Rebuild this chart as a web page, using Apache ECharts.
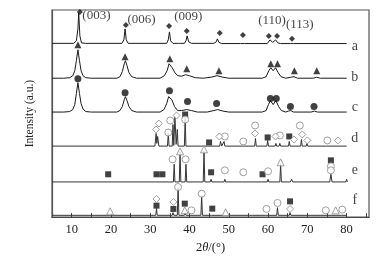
<!DOCTYPE html>
<html><head><meta charset="utf-8">
<script src="https://cdn.jsdelivr.net/npm/echarts@6/dist/echarts.min.js"></script>
<style>html,body{margin:0;padding:0;background:#fff}#c{width:386px;height:259px}</style>
</head><body><div id="c"></div>
<script>
// trace baselines (axis units)
const offsets = [174, 139, 105, 71, 35, 1.5];
const traceNames = ['a', 'b', 'c', 'd', 'e', 'f'];
const xTicks = [10, 20, 30, 40, 50, 60, 70, 80];
// [2theta, relative intensity]
const traceA = [[5,0.5],[10.5,0.5],[11.2,3],[11.6,15],[11.8,31],[12.1,8],[12.5,1],[13.5,0.5],[22.8,0.5],[23.3,4],[23.6,15],[23.9,4],[24.4,0.5],[34.2,0.5],[34.6,4],[34.9,12],[35.2,3],[35.8,0.5],[37.2,0.5],[37.5,2],[37.8,0.5],[38.7,0.5],[39.1,3],[39.4,8],[39.8,2],[40.5,0.5],[46.2,0.5],[46.8,2],[47.1,5],[47.5,1.5],[48.2,0.3],[53,0.3],[53.5,2],[54,0.3],[59.8,0.3],[60.5,4],[61.2,1.5],[61.9,4],[62.5,1],[63.2,0.3],[65.7,0.3],[66.1,2],[66.5,0.3],[80,0.3]];
const traceB = [[5,0.5],[8,0.5],[9.5,1],[10.3,3],[10.8,8],[11.2,18],[11.6,29],[12,18],[12.4,8],[12.9,3],[13.6,1],[15,0.5],[21.5,0.5],[22.3,2],[22.9,7],[23.4,15],[23.7,18],[24.1,13],[24.6,6],[25.3,2],[26.5,0.5],[32.5,0.5],[33.6,3],[34.3,8],[34.8,15],[35.1,16],[35.6,11],[36.3,6],[37,3],[38,2.5],[39,4],[40,3],[41.5,1],[43.5,0.5],[45.5,1.5],[47,3],[48.5,1.5],[50,0.5],[58.5,0.5],[59.5,2],[60.2,8],[60.7,11],[61.3,8],[61.9,11],[62.6,6],[63.3,2],[64.5,0.5],[65.8,1.5],[66.6,2],[67.5,0.5],[71.5,0.5],[72.4,1.5],[73.3,0.5],[80,0.5]];
const traceC = [[5,0.5],[8,0.5],[9.5,1],[10.3,3],[10.8,8],[11.2,19],[11.6,30],[12,19],[12.4,9],[12.9,3.5],[13.6,1],[15,0.5],[21.5,0.5],[22.3,2],[22.9,6],[23.4,13],[23.7,16],[24.1,12],[24.6,6],[25.3,2],[26.5,0.5],[32.5,0.5],[33.5,3],[34.2,9],[34.7,16],[35,18],[35.5,13],[36.2,6],[37,2],[38,2],[39.3,3],[40.5,2],[42,0.5],[44.5,0.5],[46.2,2],[47.2,3],[48.5,1.5],[50,0.5],[58.5,0.5],[59.5,2],[60.1,8],[60.6,12],[61.3,8],[62,12],[62.7,6],[63.4,2],[64.5,0.5],[65.2,1.5],[65.8,2],[66.5,0.5],[71,0.5],[71.8,1.5],[72.6,0.5],[80,0.5]];
const traceD = [[5,0.3],[31.2,0.3],[31.5,13],[31.7,3],[31.9,10],[32.2,0.3],[34.4,0.3],[34.6,13],[34.8,0.3],[35.6,0.3],[35.8,22],[36.0,1],[36.3,30],[36.6,2],[36.9,17],[37.1,0.3],[38.7,0.3],[38.9,28],[39.1,0.3],[44.8,0.3],[45,2],[45.2,0.3],[47.7,0.3],[47.9,5],[48.2,0.3],[48.6,0.3],[48.8,5],[49.0,0.3],[53.4,0.3],[53.6,1.5],[53.8,0.3],[56.6,0.3],[56.8,8],[57.0,0.3],[57.7,0.3],[57.9,2],[58.1,0.3],[59.7,0.3],[59.9,6],[60.1,0.3],[61.8,0.3],[62,3],[62.2,0.3],[62.8,0.3],[63,3],[63.2,0.3],[65.2,0.3],[65.4,5],[65.6,0.3],[66.6,0.3],[66.8,2],[67,0.3],[68.3,0.3],[68.5,7],[68.7,0.3],[69.7,0.3],[69.9,3],[70.1,0.3],[74.8,0.3],[75,1.5],[75.2,0.3],[77.6,0.3],[77.8,1],[78,0.3],[80,0.3]];
const traceE = [[5,0.3],[19.1,0.3],[19.3,1.5],[19.5,0.3],[31.4,0.3],[31.6,2],[31.8,0.3],[32.8,0.3],[33,2],[33.2,0.3],[35.9,0.3],[36.1,18],[36.3,0.3],[37.4,0.3],[37.6,30],[37.8,0.3],[38.9,0.3],[39.1,18],[39.3,0.3],[43.5,0.3],[43.7,31],[43.9,0.3],[45.3,0.3],[45.5,3],[45.7,0.3],[48.8,0.3],[49,3],[49.2,0.3],[53.5,0.3],[53.7,1],[53.9,0.3],[58.4,0.3],[58.6,2],[58.8,0.3],[59.8,0.3],[60,3],[60.2,0.3],[63,0.3],[63.2,18],[63.4,0.3],[65.7,0.3],[66,3],[66.3,0.3],[67.9,0.3],[68.1,2],[68.3,0.3],[75.7,0.3],[76,8],[76.3,0.3],[79.8,0.3],[80,3],[80.2,0.3]];
const traceF = [[5,0.3],[31.4,0.3],[31.6,7],[31.8,0.3],[35.6,0.3],[35.8,3],[36.0,0.3],[36.2,2],[36.4,0.3],[36.9,0.3],[37.1,28],[37.3,0.3],[38.7,0.3],[38.9,3],[39.1,0.3],[40.2,0.3],[40.4,2],[40.6,0.3],[42.9,0.3],[43.1,20],[43.3,0.3],[45.6,0.3],[45.8,2],[46,0.3],[55.3,0.3],[55.4,2],[55.6,0.3],[56.1,0.3],[56.2,2],[56.4,0.3],[59.4,0.3],[59.6,2],[59.8,0.3],[62.2,0.3],[62.4,8],[62.6,0.3],[65.4,0.3],[65.6,3],[65.8,0.3],[74.5,0.3],[74.7,2],[74.9,0.3],[78.7,0.3],[78.9,2],[79.1,0.3],[80,0.3]];
const traces = [traceA, traceB, traceC, traceD, traceE, traceF];

// markers: [2theta, trace index, height above that trace's baseline]
const diamondFilled = [[12.1,0,32],[23.8,0,19],[34.8,0,18],[39.3,0,13],[47.7,0,11],[53.6,0,9],[60.2,0,8],[62.3,0,8],[66.1,0,5]];
const triangleFilled = [[11.6,1,34],[23.6,1,22],[35.0,1,20],[39.3,1,10],[47.5,1,8],[60.7,1,15],[62.4,1,15],[66.7,1,8],[72.4,1,8]];
const circleFilled = [[11.6,2,34],[23.6,2,20],[34.9,2,22],[39.5,2,11],[46.9,2,9],[60.6,2,14],[62.1,2,14],[65.7,2,6],[71.7,2,6]];
const squareFilled = [[38.9,3,32],[45.0,3,4],[59.9,3,9],[65.4,3,10],[19.3,4,8],[31.6,4,8],[33.1,4,8],[45.5,4,10],[58.6,4,8],[76.0,4,22],[31.6,5,10],[35.9,5,6.7],[38.8,5,12],[45.8,5,7],[65.6,5,14.3]];
const circleHollow = [[34.6,3,14],[35.1,3,26],[38.9,3,27],[49.0,3,10],[53.7,3,5],[56.7,3,21],[63.0,3,11],[68.1,3,21],[75.1,3,6],[35.7,4,23],[39.0,4,23],[49.0,4,12],[53.7,4,10],[60.0,4,11],[76.0,4,16],[76.0,4,12],[37.1,5,28.7],[40.5,5,5.3],[43.1,5,22],[59.6,5,6.7],[62.4,5,12.7],[74.7,5,5.3],[78.9,5,6]];
const diamondHollow = [[31.5,3,17],[32.2,3,23],[36.7,3,31],[47.6,3,10],[56.7,3,13],[61.9,3,10],[66.6,3,7],[68.7,3,12],[70.0,3,6],[77.8,3,6],[31.6,5,16.7],[35.9,5,13.7],[65.6,5,6.7]];
const triangleHollow = [[37.6,4,31],[43.7,4,33],[63.2,4,20],[19.8,5,4.3],[38.8,5,5.3],[49.2,5,3.3],[77.2,5,5.3]];

// peak (hkl) labels: [2theta, axis value, text]
const hklLabels = [[16.3,202,'(003)'],[27.8,198,'(006)'],[39.7,201,'(009)'],[61.0,197,'(110)'],[68.1,193,'(113)']];
// sample letters: [2theta, axis value]
const letterPos = [[82.1,172],[82.1,140],[82.1,110],[82.1,79],[82.1,47],[82.1,17]];

const FONT = "'Liberation Serif','Times New Roman',serif";
const chart = echarts.init(document.getElementById('c'), null, {renderer:'canvas'});
const toPts = arr => arr.map(m => [m[0], offsets[m[1]] + m[2]]);
const series = [];
traces.forEach((t, i) => {
  series.push({type:'line', data: t.map(p => [p[0], p[1] + offsets[i]]), showSymbol:false, symbol:'none',
    lineStyle:{color: i < 3 ? '#1a1a1a' : '#333', width: 1}, z: 2, silent: true, animation:false});
});
const mk = (data, symbol, size, filled) => ({type:'scatter', data: toPts(data), symbol, symbolSize:size, z:5, animation:false,
  itemStyle: filled ? {color:'#111'} : {color:'#fff', borderColor:'#888', borderWidth:1}});
series.push(mk(diamondFilled, 'diamond', 6, true));
series.push(mk(triangleFilled, 'triangle', 7, true));
series.push(mk(circleFilled, 'circle', 7, true));
series.push(mk(squareFilled, 'rect', 6, true));
series.push(mk(circleHollow, 'circle', 7, false));
series.push(mk(diamondHollow, 'diamond', 7, false));
series.push(mk(triangleHollow, 'triangle', 7, false));
series.push({type:'scatter', data: hklLabels.map(d => ({value:[d[0], d[1]], name:d[2]})), symbolSize:0, z:6, animation:false,
  label:{show:true, position:'inside', formatter:p => p.name, fontFamily:FONT, fontSize:13, color:'#111'}});
series.push({type:'scatter', data: letterPos.map((d, i) => ({value:d, name:traceNames[i]})), symbolSize:0, z:6, animation:false,
  label:{show:true, position:'inside', formatter:p => p.name, fontFamily:FONT, fontSize:14, color:'#111'}});

chart.setOption({
  animation:false,
  grid:{left:52, right:17, top:10, bottom:41, show:true, borderColor:'#555', borderWidth:1.2},
  xAxis:{type:'value', min:5, max:85.7, interval:5,
    axisLine:{show:true, lineStyle:{color:'#444', width:1.2}},
    axisTick:{show:true, inside:true, length:4, lineStyle:{color:'#444'}},
    splitLine:{show:false},
    axisLabel:{fontFamily:FONT, fontSize:12.5, color:'#222', margin:6, showMinLabel:false, showMaxLabel:false,
      formatter: v => xTicks.includes(Math.round(v)) && Math.abs(v - Math.round(v)) < 1e-6 ? String(Math.round(v)) : ''},
    name:'2{i|θ}/(°)', nameLocation:'middle', nameGap:22,
    nameTextStyle:{fontFamily:FONT, fontSize:12.5, color:'#222', rich:{i:{fontFamily:FONT, fontStyle:'italic', fontSize:12.5, color:'#222'}}}},
  yAxis:{type:'value', min:0, max:208, axisLabel:{show:false}, axisTick:{show:false}, splitLine:{show:false},
    axisLine:{show:true, lineStyle:{color:'#555', width:1.2}},
    name:'Intensity (a.u.)', nameLocation:'middle', nameGap:16,
    nameTextStyle:{fontFamily:FONT, fontSize:11.5, color:'#222'}},
  series
});
</script></body></html>
